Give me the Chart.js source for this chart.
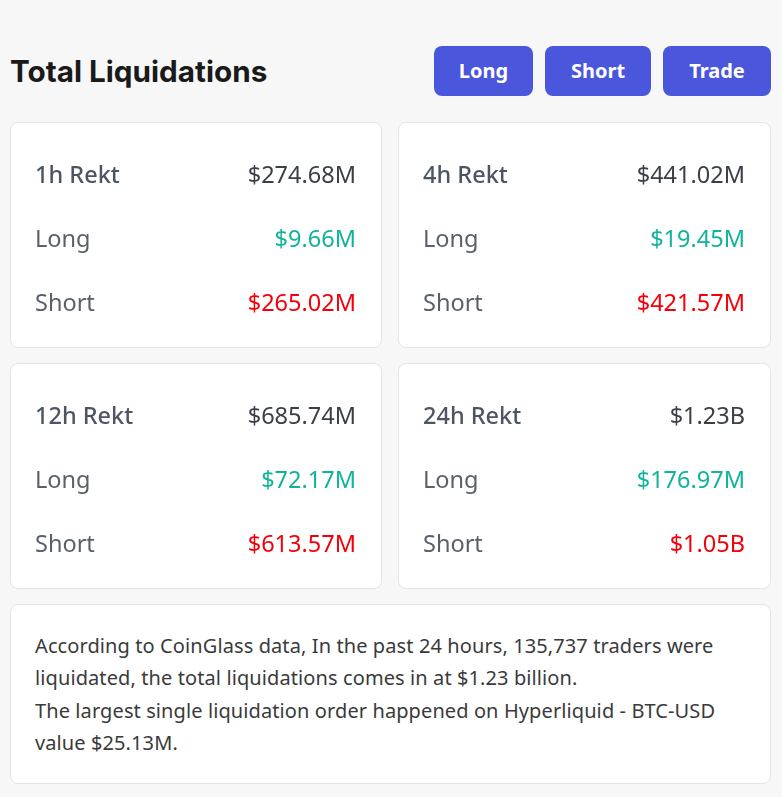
<!DOCTYPE html>
<html>
<head>
<meta charset="utf-8">
<script src="https://cdn.jsdelivr.net/npm/chart.js@4.4.1/dist/chart.umd.min.js"></script>
<style>
  body { margin: 0; background: #f7f7f7; font-family: "Noto Sans", sans-serif; }
  .title { position: absolute; left: 10px; top: 50px; margin: 0; font-family: Inter, sans-serif; font-weight: 700; font-size: 29.7px; color: #1a1a1a; line-height: 42px; }
  .btn { position: absolute; top: 46px; height: 50px; line-height: 50px; background: #4a56dc; color: #fff; border-radius: 8px; text-align: center; font-weight: 700; font-size: 20px; }
  .card { position: absolute; background: #fff; border: 1px solid #e5e5e5; border-radius: 8px; box-sizing: border-box; }
  .card canvas { display: block; }
  .note { position: absolute; left: 10px; top: 604px; width: 761px; height: 180px; padding: 25px 24px 0 24px; font-size: 20px; letter-spacing: 0.1px; line-height: 32.4px; color: #3a3a3a; }
</style>
</head>
<body>
<h1 class="title">Total Liquidations</h1>
<div class="btn" style="left:434px;width:99px">Long</div>
<div class="btn" style="left:545px;width:106px">Short</div>
<div class="btn" style="left:663px;width:108px">Trade</div>
<div id="cards"></div>
<div class="card note" id="note"></div>

<script>
// Liquidation totals per period, in millions of USD
const periods = ["1h", "4h", "12h", "24h"];
const rowNames = ["Rekt", "Long", "Short"];
const totalRekt = [274.68, 441.02, 685.74, 1230];
const longRekt = [9.66, 19.45, 72.17, 176.97];
const shortRekt = [265.02, 421.57, 613.57, 1050];

const noteLines = [
  "According to CoinGlass data, In the past 24 hours, 135,737 traders were",
  "liquidated, the total liquidations comes in at $1.23 billion.",
  "The largest single liquidation order happened on Hyperliquid - BTC-USD",
  "value $25.13M."
];

Chart.defaults.font.family = "'Noto Sans', sans-serif";

// card boxes: [left, top]
const cardPos = [[10, 122], [398, 122], [10, 363], [398, 363]];
const valueColors = ["#3b4048", "#10b39b", "#f5000a"];
const labelColors = ["#4b5563", "#5a606b", "#5a606b"];

function fmt(v) {
  if (v >= 1000) return "$" + (v / 1000).toFixed(2) + "B";
  return "$" + v.toFixed(2) + "M";
}

// the layout caps side axes at a quarter of the width, widen them,
// and drop the label half-height padding so layout padding alone sets the rows
function wideAxis(scale) {
  scale.width = 150;
  scale.paddingTop = 0;
  scale.paddingBottom = 0;
}

periods.forEach(function (p, i) {
  var box = document.createElement("div");
  box.className = "card";
  box.style.left = cardPos[i][0] + "px";
  box.style.top = cardPos[i][1] + "px";
  box.style.width = (i % 2 === 0 ? 372 : 373) + "px";
  box.style.height = "226px";
  var cv = document.createElement("canvas");
  box.appendChild(cv);
  document.getElementById("cards").appendChild(box);

  var vals = [totalRekt[i], longRekt[i], shortRekt[i]];
  var labels = rowNames.map(function (n, k) { return k === 0 ? p + " " + n : n; });

  new Chart(cv, {
    type: "bar",
    data: {
      labels: labels,
      datasets: [{
        data: vals,
        backgroundColor: "rgba(0,0,0,0)",
        yAxisID: "y"
      }]
    },
    options: {
      indexAxis: "y",
      responsive: true,
      maintainAspectRatio: false,
      animation: false,
      events: [],
      layout: { padding: { top: 21.5, bottom: 10.5, left: 24, right: 25 } },
      plugins: { legend: { display: false }, tooltip: { enabled: false } },
      scales: {
        x: { display: false },
        y: {
          type: "category",
          position: "left",
          offset: true,
          grid: { display: false },
          border: { display: false },
          afterFit: wideAxis,
          ticks: {
            crossAlign: "far",
            padding: 0,
            color: function (c) { return labelColors[c.index]; },
            font: function (c) { return { size: 23.5, weight: c.index === 0 ? "500" : "400" }; }
          }
        },
        y2: {
          type: "category",
          labels: vals.map(fmt),
          position: "right",
          offset: true,
          grid: { display: false },
          border: { display: false },
          afterFit: wideAxis,
          ticks: {
            crossAlign: "far",
            padding: 0,
            color: function (c) { return valueColors[c.index]; },
            font: { size: 23.5, weight: "400" }
          }
        }
      }
    }
  });
});

document.getElementById("note").innerHTML = noteLines.join("<br>");
</script>
</body>
</html>
